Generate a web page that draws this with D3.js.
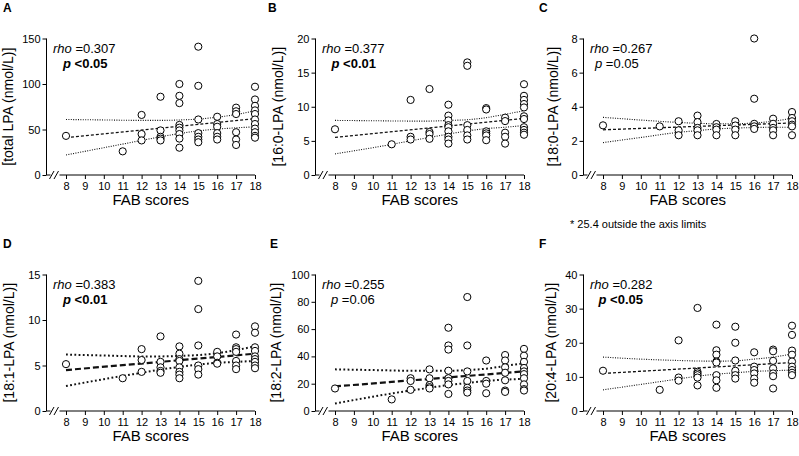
<!DOCTYPE html>
<html><head><meta charset="utf-8">
<script src="https://cdn.jsdelivr.net/npm/d3@7/dist/d3.min.js"></script>
<style>
html,body{margin:0;padding:0;background:#fff;}
svg{display:block;font-family:"Liberation Sans",Arial,sans-serif;}
</style></head><body>
<svg id="c" width="799" height="456"></svg>
<script>
// ---------- data ----------
const fabTicks = [8,9,10,11,12,13,14,15,16,17,18];
const ciX = [8,10,12,13,14,15,16,17,18];

// Panel A: total LPA
const groupsA = [[8,[43]],[11,[26]],[12,[66,45,38]],[13,[86,49,42,40,38]],
  [14,[100,87,79,55,52,49,45,40,30]],[15,[141,98,61,46,42,39,36]],
  [16,[64,56,53,46,42,39]],[17,[74,70,67,47,39,33]],
  [18,[97,83,76,71,67,61,56,51,47,43,41]]];
const fitA = [41,62];
const upA = [61,60.5,60,60,60.5,61.5,63.5,66.5,70.5];
const loA = [22,30,38,42,45.5,48.5,50.5,51.8,53];

// Panel B: 16:0-LPA
const groupsB = [[8,[6.7]],[11,[4.5]],[12,[11.0,5.6,5.2]],[13,[12.6,6.3,6.0,5.3]],
  [14,[10.3,8.7,8.0,7.3,7.0,6.4,5.6,5.2,4.6]],[15,[16.5,16.0,7.3,6.6,5.8,5.2]],
  [16,[9.8,9.6,6.4,6.1,5.8,5.1]],[17,[8.4,7.9,6.2,5.6,4.6]],
  [18,[13.3,11.6,11.0,10.4,9.9,8.6,8.2,7.0,6.6,6.2,5.9]]];
const fitB = [5.5,8.3];
const upB = [8.0,7.95,7.9,7.9,8.0,8.1,8.4,8.9,9.4];
const loB = [3.1,4.0,5.0,5.5,6.0,6.45,6.8,7.0,7.25];

// Panel C: 18:0-LPA
const groupsC = [[8,[2.91]],[11,[2.85]],[12,[3.15,2.62,2.33]],[13,[3.48,3.1,2.76,2.62,2.33]],
  [14,[2.99,2.8,2.66,2.33]],[15,[3.15,2.9,2.66,2.33]],
  [16,[8.0,4.47,3.0,2.85,2.7]],[17,[3.3,3.0,2.76,2.62,2.33]],
  [18,[3.69,3.34,3.15,2.95,2.85,2.33]]];
const fitC = [2.65,3.05];
const upC = [3.38,3.22,3.08,3.03,3.0,3.0,3.05,3.15,3.33];
const loC = [1.9,2.2,2.5,2.6,2.7,2.75,2.78,2.8,2.8];

// Panel D: 18:1-LPA
const groupsD = [[8,[5.15]],[11,[3.6]],[12,[6.8,5.6,4.3]],[13,[8.2,5.4,4.8,4.4,4.2]],
  [14,[7.1,6.3,5.7,5.5,4.8,4.3,4.0,3.6]],[15,[14.3,11.2,7.2,5.0,4.6,4.0]],
  [16,[6.5,6.0,5.3,5.2]],[17,[8.4,7.0,6.8,6.5,5.5,5.0,4.6]],
  [18,[9.3,8.6,7.0,6.6,6.0,5.7,5.4,5.0,4.7]]];
const fitD = [4.5,6.3];
const upD = [6.2,6.1,6.0,6.0,6.05,6.15,6.35,6.7,7.1];
const loD = [2.75,3.5,4.2,4.55,4.85,5.1,5.3,5.4,5.5];

// Panel E: 18:2-LPA
const groupsE = [[8,[16.5]],[11,[8.5]],[12,[24,22,15.5]],[13,[30.5,24,19,17.5,16.5]],
  [14,[61,48,45,29.5,24,22,19.5,12.5]],[15,[83.5,48,29,22,17,15,13.5]],
  [16,[37,22,20,13]],[17,[41,37,32,28,22.5,15,14]],
  [18,[45.5,40.5,36,31.5,29,27,24,19.5,16,15]]];
const fitE = [18,29];
const upE = [30.5,30,29.5,29.5,29.5,30,31,33,35];
const loE = [5.5,10.5,15,17,19,20.5,22,23,23.5];

// Panel F: 20:4-LPA
const groupsF = [[8,[11.8]],[11,[6.2]],[12,[20.7,9.8,8.9]],[13,[30.2,11.5,11,10.5,9.8,7.5]],
  [14,[25.3,17.8,16.5,14.5,14.2,10.5,9,6.8]],[15,[24.7,20,14.8,11.8,10.5,9.5]],
  [16,[17.2,13,12,11,9.5,8.3]],[17,[18,17.5,14.7,12.5,11,10.2,6.6]],
  [18,[25,22.3,17.7,16.5,14.5,13,12,11.2,10.5]]];
const fitF = [11,14.2];
const upF = [15.8,15.2,14.8,14.65,14.6,14.7,15.2,15.8,16.7];
const loF = [6.2,7.8,9.4,10.2,10.8,11.2,11.6,11.8,12];

const yTicksA = [0,50,100,150];
const yTicksB = [0,5,10,15,20];
const yTicksC = [0,2,4,6,8];
const yTicksD = [0,5,10,15];
const yTicksE = [0,20,40,60,80,100];
const yTicksF = [0,10,20,30,40];

// ---------- layout ----------
const svg = d3.select("#c");
const panels = [
  {lab:"A",lx:3,ly:12,left:46.5,bottom:175,groups:groupsA,fit:fitA,up:upA,lo:loA,ticks:yTicksA,
   title:"[total LPA (nmol/L)]",tOff:33.5,rho:"=0.307",p:"<0.05",pBold:true,pOff:16.5,thick:false},
  {lab:"B",lx:268,ly:12,left:315.5,bottom:175,groups:groupsB,fit:fitB,up:upB,lo:loB,ticks:yTicksB,
   title:"[16:0-LPA (nmol/L)]",tOff:33,rho:"=0.377",p:"<0.01",pBold:true,pOff:16,thick:false},
  {lab:"C",lx:539,ly:12,left:583.5,bottom:175,groups:groupsC,fit:fitC,up:upC,lo:loC,ticks:yTicksC,
   title:"[18:0-LPA (nmol/L)]",tOff:26,rho:"=0.267",p:"=0.05",pBold:false,pOff:11.5,thick:false},
  {lab:"D",lx:3,ly:248,left:46.5,bottom:411,groups:groupsD,fit:fitD,up:upD,lo:loD,ticks:yTicksD,
   title:"[18:1-LPA (nmol/L)]",tOff:32.5,rho:"=0.383",p:"<0.01",pBold:true,pOff:16.5,thick:true},
  {lab:"E",lx:270,ly:248,left:315.5,bottom:411,groups:groupsE,fit:fitE,up:upE,lo:loE,ticks:yTicksE,
   title:"[18:2-LPA (nmol/L)]",tOff:35,rho:"=0.255",p:"=0.06",pBold:false,pOff:15.5,thick:true},
  {lab:"F",lx:539,ly:248,left:583.5,bottom:411,groups:groupsF,fit:fitF,up:upF,lo:loF,ticks:yTicksF,
   title:"[20:4-LPA (nmol/L)]",tOff:28,rho:"=0.282",p:"<0.05",pBold:true,pOff:15,thick:false}
];
const plotH = 136.5, x8Off = 19.5, x18Off = 208.5;

panels.forEach(P => {
  const g = svg.append("g");
  const x = d3.scaleLinear().domain([8,18]).range([P.left + x8Off, P.left + x18Off]);
  const yMax = P.ticks[P.ticks.length-1];
  const y = d3.scaleLinear().domain([0,yMax]).range([P.bottom, P.bottom - plotH]);

  // panel letter
  g.append("text").attr("x",P.lx).attr("y",P.ly).attr("font-size",12).attr("font-weight","bold").text(P.lab);

  // y axis
  const ya = g.append("g").attr("transform",`translate(${P.left},0)`)
    .call(d3.axisLeft(y).tickValues(P.ticks).tickSize(4).tickPadding(2).tickFormat(d3.format("d")));
  ya.select(".domain").attr("d",`M0,${y(0)}V${y(yMax)}`).attr("stroke","#000");
  ya.selectAll(".tick line").attr("stroke","#000");
  ya.selectAll("text").attr("font-size",11).attr("font-family","'Liberation Sans',Arial,sans-serif").attr("fill","#000");

  // x axis (with break)
  const xa = g.append("g").attr("transform",`translate(0,${P.bottom})`)
    .call(d3.axisBottom(x).tickValues(fabTicks).tickSize(4).tickPadding(3).tickFormat(d3.format("d")));
  xa.select(".domain").attr("d",`M${P.left},0H${P.left+4}M${P.left+13},0H${x(18)}`).attr("stroke","#000");
  xa.selectAll(".tick line").attr("stroke","#000");
  xa.selectAll("text").attr("font-size",11).attr("font-family","'Liberation Sans',Arial,sans-serif").attr("fill","#000");
  [P.left+4.5, P.left+9].forEach(bx => {
    g.append("line").attr("x1",bx-1.5).attr("y1",P.bottom+4).attr("x2",bx+3).attr("y2",P.bottom-4)
      .attr("stroke","#000").attr("stroke-width",1);
  });

  // titles
  g.append("text").attr("x",(P.left + x(18))/2).attr("y",P.bottom+30).attr("text-anchor","middle")
    .attr("font-size",15).text("FAB scores");
  g.append("text").attr("transform",`translate(${P.left-P.tOff},${P.bottom-plotH/2}) rotate(-90)`)
    .attr("text-anchor","middle").attr("font-size",14).text(P.title);

  // lines
  const sw = P.thick ? 2 : 1.1;
  const fitLine = d3.line().x(d=>x(d[0])).y(d=>y(d[1]));
  g.append("path").datum([[8,P.fit[0]],[18,P.fit[1]]]).attr("d",fitLine)
    .attr("fill","none").attr("stroke","#111").attr("stroke-width",P.thick?2.2:1.3)
    .attr("stroke-dasharray",P.thick?"6,3":"3,2");
  const ciLine = d3.line().x(d=>x(d[0])).y(d=>y(d[1])).curve(d3.curveMonotoneX);
  [P.up,P.lo].forEach(arr => {
    g.append("path").datum(ciX.map((v,i)=>[v,arr[i]])).attr("d",ciLine)
      .attr("fill","none").attr("stroke","#111").attr("stroke-width",sw)
      .attr("stroke-dasharray",P.thick?"1.8,2.4":"1,1.4");
  });

  // points
  const pts = [];
  P.groups.forEach(([s,vals]) => vals.forEach(v => pts.push([s,v])));
  g.append("g").selectAll("circle").data(pts).join("circle")
    .attr("cx",d=>x(d[0])).attr("cy",d=>y(d[1])).attr("r",3.6)
    .attr("fill","#fff").attr("stroke","#000").attr("stroke-width",1);

  // stats annotation
  const t1 = g.append("text").attr("x",P.left+6.5).attr("y",P.bottom-plotH+14.5).attr("font-size",13);
  t1.append("tspan").attr("font-style","italic").text("rho");
  t1.append("tspan").text(" " + P.rho);
  const t2 = g.append("text").attr("x",P.left+P.pOff).attr("y",P.bottom-plotH+29.5).attr("font-size",13)
    .attr("font-weight",P.pBold?"bold":"normal");
  t2.append("tspan").attr("font-style","italic").text("p");
  t2.append("tspan").text(" " + P.p);
});

// note under panel C
svg.append("text").attr("x",570).attr("y",228).attr("font-size",11).text("* 25.4 outside the axis limits");
</script>
</body></html>
